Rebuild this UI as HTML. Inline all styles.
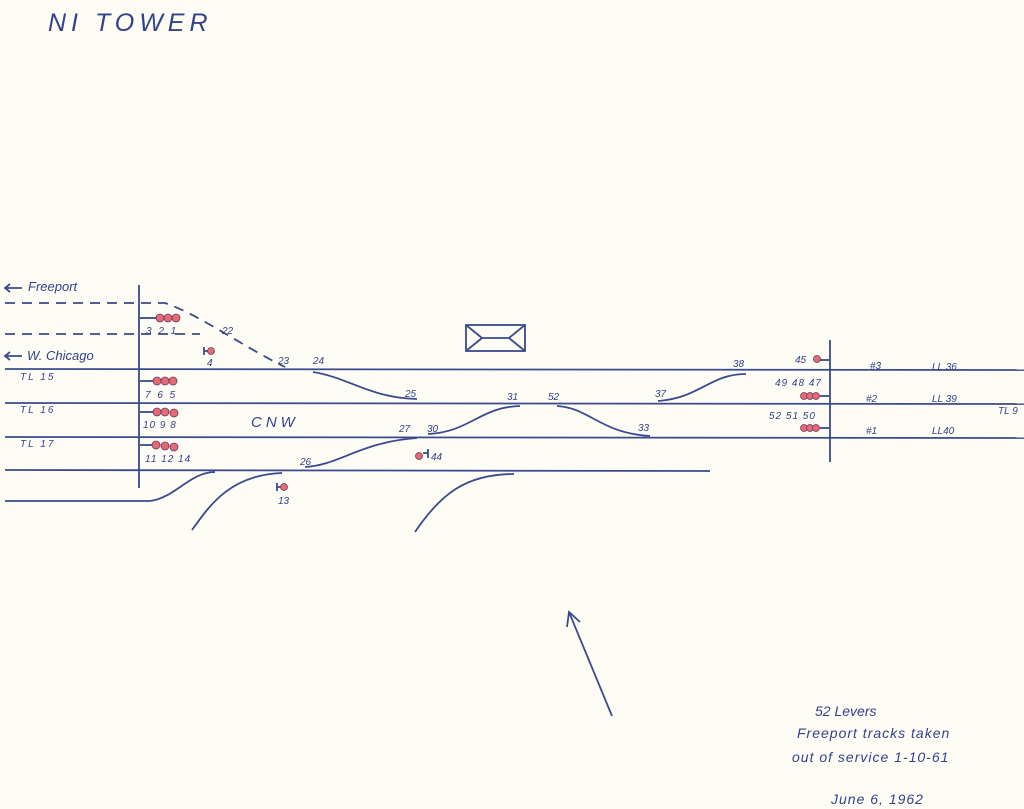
<!DOCTYPE html>
<html><head><meta charset="utf-8"><style>
html,body{margin:0;padding:0;background:#fdfdf6;}
svg{display:block}
text{font-family:"Liberation Sans",sans-serif;font-style:italic;fill:#34418a;}
</style></head><body>
<svg width="1024" height="809" viewBox="0 0 1024 809" xmlns="http://www.w3.org/2000/svg">
<rect width="1024" height="809" fill="#fdfdf6"/>
<g stroke="#3a4a8c" stroke-width="1.8" fill="none">
<line x1="5" y1="369" x2="1024" y2="370"/>
<line x1="5" y1="403" x2="1024" y2="404"/>
<line x1="5" y1="437" x2="1024" y2="438"/>
<line x1="5" y1="470" x2="710" y2="471"/>
<path d="M5 501 L150 501 C175 498 190 472 215 472"/>
<line x1="139" y1="285" x2="139" y2="488"/>
<line x1="830" y1="340" x2="830" y2="462"/>
<path d="M5 303 L165 303 C200 315 240 345 285 367" stroke-dasharray="10,7"/>
<line x1="5" y1="334" x2="200" y2="334" stroke-dasharray="10,7"/>
<path d="M313 372 C350 378 370 398 417 399"/>
<path d="M305 467 C340 465 360 442 417 438"/>
<path d="M428 434 C470 432 480 407 520 406"/>
<path d="M557 406 C590 408 600 433 650 436"/>
<path d="M658 401 C700 398 710 374 746 374"/>
<path d="M192 530 C210 505 230 475 282 473"/>
<path d="M415 532 C440 495 465 474 514 474"/>
<line x1="612" y1="716" x2="569" y2="612"/>
<path d="M567 627 L569 612 L580 622"/>
<rect x="466" y="325" width="59" height="26"/>
<path d="M466 325 L482 338 L509 338 L525 325 M466 351 L482 338 M509 338 L525 351"/>
<line x1="140" y1="318" x2="156" y2="318"/>
<line x1="140" y1="381" x2="154" y2="381"/>
<line x1="140" y1="412" x2="156" y2="412"/>
<line x1="140" y1="445" x2="154" y2="445"/>
<line x1="204" y1="347" x2="204" y2="355"/><line x1="204" y1="351" x2="209" y2="351"/>
<line x1="277" y1="483" x2="277" y2="491"/><line x1="277" y1="487" x2="283" y2="487"/>
<line x1="423" y1="453" x2="428" y2="453"/><line x1="428" y1="449" x2="428" y2="458"/>
<line x1="820" y1="360" x2="829" y2="360"/>
<line x1="820" y1="396" x2="829" y2="396"/>
<line x1="820" y1="428" x2="829" y2="428"/>
<line x1="5" y1="288" x2="22" y2="288"/><path d="M10 284 L5 288 L10 292"/>
<line x1="5" y1="356" x2="22" y2="356"/><path d="M10 352 L5 356 L10 360"/>
</g>
<g fill="#e56a78" stroke="#6a3a5a" stroke-width="0.8">
<circle cx="160" cy="318" r="4"/><circle cx="168" cy="318" r="4"/><circle cx="176" cy="318" r="4"/>
<circle cx="157" cy="381" r="4"/><circle cx="165" cy="381" r="4"/><circle cx="173" cy="381" r="4"/>
<circle cx="157" cy="412" r="4"/><circle cx="165" cy="412" r="4"/><circle cx="174" cy="413" r="4"/>
<circle cx="156" cy="445" r="4"/><circle cx="165" cy="446" r="4"/><circle cx="174" cy="447" r="4"/>
<circle cx="211" cy="351" r="3.5"/><circle cx="284" cy="487" r="3.5"/><circle cx="419" cy="456" r="3.5"/>
<circle cx="817" cy="359" r="3.5"/>
<circle cx="804" cy="396" r="3.5"/><circle cx="810" cy="396" r="3.5"/><circle cx="816" cy="396" r="3.5"/>
<circle cx="804" cy="428" r="3.5"/><circle cx="810" cy="428" r="3.5"/><circle cx="816" cy="428" r="3.5"/>
</g>
<g font-size="10">
<text x="146" y="334" letter-spacing="2">3 2 1</text>
<text x="222" y="334">22</text>
<text x="207" y="366">4</text>
<text x="278" y="364">23</text>
<text x="313" y="364">24</text>
<text x="145" y="398" letter-spacing="2">7 6 5</text>
<text x="405" y="397">25</text>
<text x="143" y="428" letter-spacing="1">10 9 8</text>
<text x="145" y="462" letter-spacing="1">11 12 14</text>
<text x="300" y="465">26</text>
<text x="399" y="432">27</text>
<text x="427" y="432">30</text>
<text x="431" y="460">44</text>
<text x="278" y="504">13</text>
<text x="507" y="400">31</text>
<text x="548" y="400">52</text>
<text x="638" y="431">33</text>
<text x="655" y="397">37</text>
<text x="733" y="367">38</text>
<text x="795" y="363">45</text>
<text x="775" y="386" letter-spacing="1">49 48 47</text>
<text x="769" y="419" letter-spacing="1">52 51 50</text>
<text x="870" y="369">#3</text><text x="932" y="370">LL 36</text>
<text x="866" y="402">#2</text><text x="932" y="402">LL 39</text>
<text x="866" y="434">#1</text><text x="932" y="434">LL40</text>
<text x="998" y="414">TL 9</text>
<text x="20" y="380" letter-spacing="2">TL 15</text>
<text x="20" y="413" letter-spacing="2">TL 16</text>
<text x="20" y="447" letter-spacing="2">TL 17</text>
</g>
<text x="28" y="291" font-size="13">Freeport</text>
<text x="27" y="360" font-size="13">W. Chicago</text>
<text x="251" y="427" font-size="15" letter-spacing="4">CNW</text>
<text x="48" y="31" font-size="25" letter-spacing="5" style="font-style:italic">NI TOWER</text>
<g font-size="14">
<text x="815" y="716">52 Levers</text>
<text x="797" y="738" letter-spacing="1">Freeport tracks taken</text>
<text x="792" y="762" letter-spacing="1">out of service 1-10-61</text>
<text x="831" y="804" letter-spacing="1">June 6, 1962</text>
</g>
</svg>
</body></html>
